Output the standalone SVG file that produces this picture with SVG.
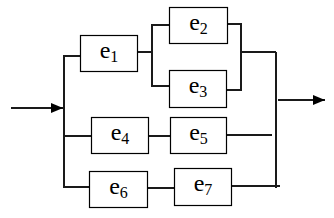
<svg xmlns="http://www.w3.org/2000/svg" width="334" height="218" viewBox="0 0 334 218">
<style>
.box{fill:#fff;stroke:#000;stroke-width:1.2}
.lbl{font-family:"Liberation Serif",serif;font-size:24px;fill:#000;text-anchor:middle}
.sub{font-size:16px}
.w{fill:none;stroke:#1a1a1a;stroke-width:2}
</style>
<defs>
<marker id="ah" markerWidth="12" markerHeight="10" refX="12" refY="5" orient="auto" markerUnits="userSpaceOnUse">
<path d="M0,0 L12,5 L0,10 Z" fill="#000"/>
</marker>
</defs>
<rect width="334" height="218" fill="#fff"/>
<g id="connectors">
<line class="w" x1="11" y1="108" x2="63" y2="108" marker-end="url(#ah)"/>
<polyline class="w" points="80,56 64,56 64,187 89,187"/>
<line class="w" x1="64" y1="136" x2="91" y2="136"/>
<line class="w" x1="137" y1="52" x2="152" y2="52"/>
<polyline class="w" points="169,25 152,25 152,86 169,86"/>
<polyline class="w" points="227,24 241,24 241,90 226,90"/>
<line class="w" x1="241" y1="52" x2="276" y2="52"/>
<line class="w" x1="276" y1="52" x2="276" y2="188"/>
<line class="w" x1="278" y1="100" x2="325" y2="100" marker-end="url(#ah)"/>
<line class="w" x1="148" y1="136" x2="170" y2="136"/>
<line class="w" x1="226" y1="135" x2="272" y2="135"/>
<line class="w" x1="147" y1="188" x2="174" y2="188"/>
<line class="w" x1="231" y1="186" x2="280" y2="186"/>
</g>
<g id="e1"><rect class="box" x="80.5" y="35.5" width="57" height="36"/><text class="lbl" x="109" y="58">e<tspan class="sub" dy="4">1</tspan></text></g>
<g id="e2"><rect class="box" x="169.5" y="7.5" width="58" height="36"/><text class="lbl" x="198.5" y="30">e<tspan class="sub" dy="4">2</tspan></text></g>
<g id="e3"><rect class="box" x="169.5" y="70.5" width="57" height="37"/><text class="lbl" x="198" y="93">e<tspan class="sub" dy="4">3</tspan></text></g>
<g id="e4"><rect class="box" x="91.5" y="117.5" width="57" height="36"/><text class="lbl" x="120" y="140">e<tspan class="sub" dy="4">4</tspan></text></g>
<g id="e5"><rect class="box" x="170.5" y="117.5" width="56" height="36"/><text class="lbl" x="198.5" y="140">e<tspan class="sub" dy="4">5</tspan></text></g>
<g id="e6"><rect class="box" x="89.5" y="171.5" width="58" height="36"/><text class="lbl" x="118.5" y="194">e<tspan class="sub" dy="4">6</tspan></text></g>
<g id="e7"><rect class="box" x="174.5" y="168.5" width="57" height="37"/><text class="lbl" x="203" y="191">e<tspan class="sub" dy="4">7</tspan></text></g>
</svg>
